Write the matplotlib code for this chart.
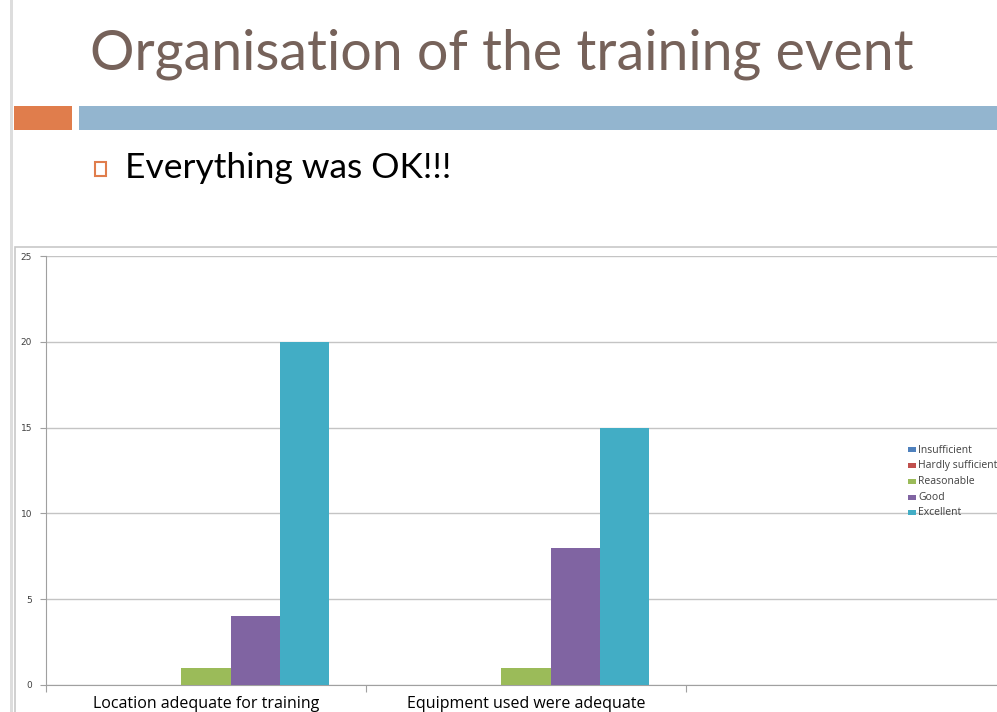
import matplotlib.pyplot as plt
import matplotlib.patches as mpatches
from matplotlib.transforms import blended_transform_factory
import numpy as np

# Survey answers per question, one list per rating level.
CATEGORIES = ["Location adequate for training", "Equipment used were adequate", ""]
SERIES_NAMES = ["Insufficient", "Hardly sufficient", "Reasonable", "Good", "Excellent"]
INSUFFICIENT = [0, 0, 0]
HARDLY_SUFFICIENT = [0, 0, 0]
REASONABLE = [1, 1, 0]
GOOD = [4, 8, 0]
EXCELLENT = [20, 15, 0]
Y_TICKS = [0, 5, 10, 15, 20, 25]

SERIES_COLOURS = ["#4F81BD", "#C0504D", "#9BBB59", "#8064A2", "#42ADC5"]

W, H = 997, 712


def px_x(x):
    return x / W


def px_y(y):
    # pixel row from the top -> figure fraction
    return 1 - y / H


fig = plt.figure(figsize=(W / 100, H / 100), dpi=100)
fig.patch.set_facecolor("white")

# slide furniture: left edge strip, header bars, title and bullet
fig.patches.append(mpatches.Rectangle((px_x(10), 0), px_x(3), 1, transform=fig.transFigure,
                                      color="#DDDDDD", lw=0))
fig.patches.append(mpatches.Rectangle((px_x(14), px_y(130)), px_x(58), 24 / H, transform=fig.transFigure,
                                      color="#E07D4C", lw=0))
fig.patches.append(mpatches.Rectangle((px_x(79), px_y(130)), px_x(930), 24 / H, transform=fig.transFigure,
                                      color="#93B5CF", lw=0))
fig.text(px_x(90), px_y(54), "Organisation of the training event", fontsize=40,
         color="#76625A", family="Lato", va="center", ha="left")
fig.patches.append(mpatches.Rectangle((px_x(95), px_y(176)), px_x(11), 14 / H, transform=fig.transFigure,
                                      facecolor="white", edgecolor="#E07D4C", lw=1.5))
fig.text(px_x(125), px_y(168), "Everything was OK!!!", fontsize=25.5, color="black",
         family="Lato", va="center", ha="left")

# chart frame
fig.patches.append(mpatches.Rectangle((px_x(15), -0.1), 1.1, px_y(247) + 0.1, transform=fig.transFigure,
                                      facecolor="none", edgecolor="#C8C8C8", lw=1.2))

ax = fig.add_axes([px_x(46), px_y(685), px_x(960), (685 - 256) / H])
ax.set_facecolor("none")

x = np.arange(len(CATEGORIES))
bar_width = 1 / 6.5
all_series = [INSUFFICIENT, HARDLY_SUFFICIENT, REASONABLE, GOOD, EXCELLENT]
for i, (values, colour) in enumerate(zip(all_series, SERIES_COLOURS)):
    ax.bar(x + (i - 2) * bar_width, values, width=bar_width, color=colour, zorder=3)

ax.set_xlim(-0.5, len(CATEGORIES) - 0.5)
ax.set_ylim(0, 25)
ax.set_yticks(Y_TICKS)
ax.yaxis.grid(True, color="#C4C4C4", lw=1, zorder=0)
ax.tick_params(axis="y", length=4, color="#A0A0A0", labelsize=6.5, labelcolor="#404040", pad=6)

# ticks sit between categories, names are placed under the middle of each group
ax.set_xticks(np.arange(len(CATEGORIES) + 1) - 0.5)
ax.set_xticklabels([])
ax.tick_params(axis="x", length=5, color="#A0A0A0")
label_transform = blended_transform_factory(ax.transData, fig.transFigure)
for xi, name in zip(x, CATEGORIES):
    fig.text(xi, px_y(704), name, ha="center", va="center", transform=label_transform,
             fontsize=11.5, family="Open Sans", color="black")

for side in ["top", "right"]:
    ax.spines[side].set_visible(False)
for side in ["left", "bottom"]:
    ax.spines[side].set_color("#A0A0A0")

# legend on the right, drawn by hand
for i, (name, colour) in enumerate(zip(SERIES_NAMES, SERIES_COLOURS)):
    y = 450 + i * 15.7
    fig.patches.append(mpatches.Rectangle((px_x(908), px_y(y + 2.5)), px_x(8), 5 / H,
                                          transform=fig.transFigure, color=colour, lw=0))
    fig.text(px_x(918), px_y(y), name, fontsize=7.5, family="Open Sans", color="#404040",
             va="center", ha="left")

fig.savefig("out.png", dpi=100)
